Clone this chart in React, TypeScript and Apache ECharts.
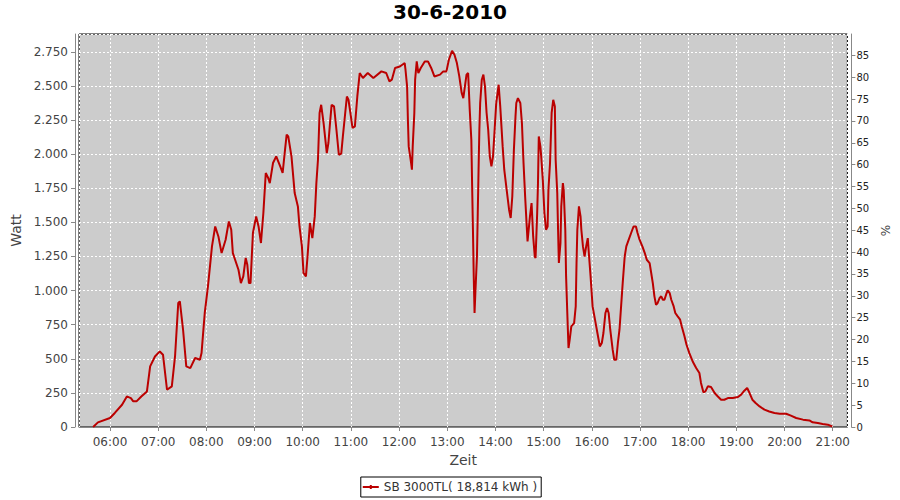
import React, { useEffect, useRef } from "react";
import * as echarts from "echarts";

// time in minutes since midnight
const minutes: number[] = [
  339, 345, 360, 366, 375, 381, 386, 389, 393, 399, 406, 410, 416, 422, 426, 431, 437, 441, 445, 447,
  451, 455, 460, 466, 472, 474, 478, 482, 487, 491, 495, 499, 504, 508, 511, 513, 520, 523, 526, 529,
  531, 533, 535, 538, 542, 545, 548, 551, 554, 557, 559, 563, 567, 572, 575, 578, 580, 582, 586, 590,
  594, 596, 599, 601, 604, 606, 609, 612, 615, 617, 619, 621, 623, 626, 630, 632, 634, 636, 639, 642,
  645, 648, 650, 655, 657, 660, 662, 665, 668, 671, 675, 681, 688, 698, 704, 708, 711, 715, 721, 727,
  728, 730, 731, 732, 735, 736, 737, 739, 740, 742, 744, 747, 752, 756, 760, 764, 771, 775, 779, 782,
  786, 789, 792, 795, 798, 800, 802, 804, 806, 808, 810, 811, 812, 813, 814, 815, 817, 818, 819, 820,
  821, 823, 825, 827, 829, 831, 833, 835, 837, 839, 841, 844, 846, 849, 851, 854, 857, 859, 861, 863,
  865, 866, 868, 871, 873, 875, 877, 879, 880, 883, 885, 887, 889, 890, 892, 893, 894, 896, 897, 899,
  901, 903, 905, 906, 908, 910, 912, 914, 915, 917, 918, 919, 921, 922, 924, 925, 927, 928, 929.5, 931,
  932.5, 934.5, 938, 940, 941, 942, 944, 946, 947, 949, 951, 953, 955, 956, 958.5, 961, 964, 967, 970, 972.5,
  974.5, 977, 979, 981, 983, 986, 988, 990.5, 992.5, 994.5, 996.5, 998.5, 1001, 1003, 1006, 1009, 1012, 1015, 1017, 1019.5,
  1023, 1026, 1028.5, 1032, 1034, 1036, 1038, 1040, 1042, 1044.5, 1046.5, 1048.5, 1050.5, 1052.5, 1054.5, 1057, 1059, 1062, 1064, 1067,
  1070, 1072, 1075.5, 1078, 1081.5, 1086, 1090, 1094, 1096, 1099, 1101.5, 1104.5, 1108.5, 1113, 1117, 1121, 1125, 1129.5, 1135.5, 1142,
  1146, 1150, 1153.5, 1156.5, 1160, 1164, 1169, 1175, 1181, 1187.5, 1194, 1202, 1208, 1214.5, 1223, 1231, 1235, 1241.5, 1247.5, 1254,
  1259.5,
];

const watts: number[] = [
  0, 34, 66, 103, 163, 224, 212, 188, 188, 224, 261, 444, 517, 554, 530, 273, 298, 517, 909, 921,
  713, 444, 432, 506, 493, 542, 836, 1031, 1324, 1470, 1397, 1275, 1373, 1507, 1446, 1275, 1153, 1055, 1104, 1239,
  1190, 1055, 1055, 1422, 1544, 1470, 1349, 1569, 1862, 1825, 1788, 1935, 1984, 1910, 1862, 2033, 2143, 2130, 1984, 1715,
  1617, 1470, 1324, 1129, 1104, 1250, 1495, 1385, 1544, 1788, 1959, 2302, 2362, 2228, 2008, 2082, 2228, 2362, 2350, 2179,
  1996, 2004, 2130, 2423, 2399, 2277, 2192, 2204, 2423, 2595, 2558, 2595, 2558, 2607, 2595, 2534, 2546, 2632, 2643, 2668,
  2619, 2497, 2252, 2057, 1935, 1886, 2057, 2302, 2546, 2680, 2595, 2632, 2680, 2680, 2632, 2570, 2583, 2607, 2607, 2692,
  2758, 2729, 2668, 2570, 2448, 2411, 2497, 2583, 2595, 2326, 2106, 1764, 1446, 1104, 836, 982, 1250, 1569, 1886, 2179,
  2375, 2546, 2583, 2497, 2302, 2179, 1984, 1910, 1984, 2179, 2375, 2509, 2350, 2057, 1886, 1739, 1593, 1532, 1690, 2033,
  2277, 2375, 2411, 2375, 2228, 1935, 1690, 1470, 1360, 1544, 1642, 1397, 1250, 1239, 1569, 1788, 2130, 2057, 1984, 1812,
  1569, 1446, 1470, 1739, 1935, 2302, 2399, 2350, 1959, 1715, 1446, 1202, 1349, 1617, 1788, 1739, 1446, 1104, 836, 579,
  640, 738, 762, 884, 1202, 1446, 1617, 1544, 1446, 1324, 1250, 1324, 1385, 1300, 1104, 884, 787, 689, 591, 616,
  689, 836, 872, 836, 713, 567, 493, 493, 616, 713, 884, 1055, 1250, 1324, 1373, 1422, 1470, 1470, 1422, 1373,
  1324, 1275, 1226, 1202, 1129, 1055, 958, 896, 909, 946, 958, 933, 933, 970, 1001, 982, 933, 884, 836, 811,
  787, 738, 664, 603, 542, 476, 432, 396, 323, 254, 261, 298, 293, 249, 224, 200, 200, 212, 212, 220,
  237, 266, 286, 249, 200, 176, 151, 127, 114, 103, 97, 97, 83, 66, 54, 48, 34, 29, 22, 17,
  4,
];

const seriesName = "SB 3000TL( 18,814 kWh )";
const chartTitle = "30-6-2010";

const BASE = Date.UTC(2010, 5, 30);
const toTs = (m: number) => BASE + m * 60000;

export default function App() {
  const ref = useRef<HTMLDivElement>(null);
  useEffect(() => {
    if (!ref.current) return;
    const chart = echarts.init(ref.current, undefined, { renderer: "svg" });
    const data = minutes.map((m, i) => [toTs(m), watts[i]]);
    const font = "DejaVu Sans";
    chart.setOption({
      animation: false,
      useUTC: true,
      backgroundColor: "#ffffff",
      textStyle: { fontFamily: font },
      title: {
        text: chartTitle,
        left: "center",
        top: 2,
        padding: 0,
        textStyle: { fontFamily: font, fontSize: 20, fontWeight: "bold", color: "#000" },
      },
      grid: {
        left: 79,
        right: 52,
        top: 34,
        bottom: 73,
        show: true,
        backgroundColor: "#cccccc",
        borderColor: "#000",
        borderWidth: 1,
        containLabel: false,
      },
      legend: {
        left: "center",
        top: 477,
        padding: [4, 4, 4, 2],
        borderColor: "#000",
        borderWidth: 1,
        backgroundColor: "#fff",
        icon: "path://M0,3 L7,3 L7,2 L9,2 L9,3 L16,3 L16,5 L9,5 L9,6 L7,6 L7,5 L0,5 Z",
        itemWidth: 16,
        itemHeight: 4,
        itemStyle: { color: "#bb0000" },
        textStyle: { fontFamily: font, fontSize: 12, color: "#333" },
        data: [seriesName],
      },
      xAxis: {
        type: "time",
        min: toTs(321.4),
        max: toTs(1278.3),
        minInterval: 3600000,
        maxInterval: 3600000,
        splitNumber: 16,
        offset: 4,
        name: "Zeit",
        nameLocation: "middle",
        nameGap: 22,
        nameTextStyle: { fontFamily: font, fontSize: 14, color: "#444" },
        axisLine: { show: true, lineStyle: { color: "#888" } },
        axisTick: { show: true, length: 4, lineStyle: { color: "#888" } },
        axisLabel: {
          formatter: "{HH}:{mm}",
          color: "#444",
          fontSize: 12,
          fontFamily: font,
          margin: 5,
          showMinLabel: false,
          showMaxLabel: false,
        },
        splitLine: { show: true, lineStyle: { color: "#fff", type: [2, 2], width: 1 } },
        minorTick: { show: false },
      },
      yAxis: [
        {
          type: "value",
          position: "left",
          min: 0,
          max: 2881,
          interval: 250,
          offset: 4,
          name: "Watt",
          nameLocation: "middle",
          nameGap: 48,
          nameTextStyle: { fontFamily: font, fontSize: 14, color: "#444" },
          axisLine: { show: true, lineStyle: { color: "#888" } },
          axisTick: { show: true, length: 4, lineStyle: { color: "#888" } },
          axisLabel: {
            color: "#444",
            fontSize: 12,
            fontFamily: font,
            margin: 7,
            showMaxLabel: false,
            formatter: (v: number) => {
              const s = String(Math.round(v));
              return s.length > 3 ? s.slice(0, s.length - 3) + "." + s.slice(-3) : s;
            },
          },
          splitLine: { show: true, lineStyle: { color: "#fff", type: [2, 2], width: 1 } },
        },
        {
          type: "value",
          position: "right",
          min: 0,
          max: 89.9,
          interval: 5,
          offset: 4,
          name: "%",
          nameLocation: "middle",
          nameGap: 25,
          nameTextStyle: { fontFamily: font, fontSize: 12, color: "#444" },
          axisLine: { show: true, lineStyle: { color: "#888" } },
          axisTick: { show: true, length: 4, lineStyle: { color: "#888" } },
          axisLabel: {
            color: "#222",
            fontSize: 10,
            fontFamily: font,
            margin: 5,
            showMaxLabel: false,
          },
          splitLine: { show: false },
        },
      ],
      series: [
        {
          name: seriesName,
          type: "line",
          yAxisIndex: 0,
          data,
          symbol: "none",
          showSymbol: false,
          lineStyle: { color: "#bb0000", width: 2 },
          itemStyle: { color: "#bb0000" },
        },
      ],
    });
    return () => chart.dispose();
  }, []);
  return (
    <div
      ref={ref}
      style={{ position: "absolute", left: 0, top: 0, width: 900, height: 500 }}
    />
  );
}
